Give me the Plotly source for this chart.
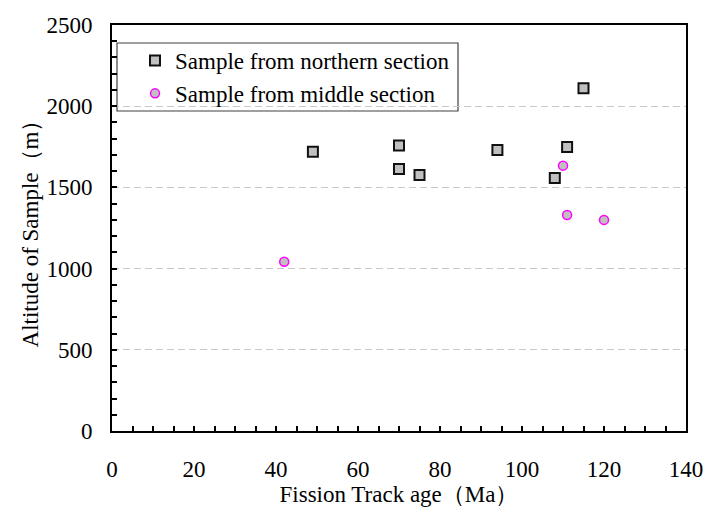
import plotly.graph_objects as go

# Fission track ages (Ma) and sample altitudes (m)
north_age = [49, 70, 70, 75, 94, 108, 111, 115]
north_alt = [1720, 1758, 1613, 1577, 1730, 1558, 1749, 2110]

middle_age = [42, 110, 111, 120]
middle_alt = [1042, 1634, 1330, 1300]

x_ticks = [0, 20, 40, 60, 80, 100, 120, 140]
y_ticks = [0, 500, 1000, 1500, 2000, 2500]

FONT = "Liberation Serif, Times New Roman, serif"

fig = go.Figure()
fig.add_trace(go.Scatter(
    x=north_age, y=north_alt, mode="markers",
    name="Sample from northern section",
    marker=dict(symbol="square", size=10, color="#c0c0c0",
                line=dict(color="#111111", width=2)),
))
fig.add_trace(go.Scatter(
    x=middle_age, y=middle_alt, mode="markers",
    name="Sample from middle section",
    marker=dict(symbol="circle", size=9, color="#c0c0c0",
                line=dict(color="#ff00ff", width=1.5)),
))

axis_common = dict(
    showline=True, linecolor="black", linewidth=2, mirror=True,
    ticks="inside", ticklen=5, tickwidth=1.5, tickcolor="black",
    zeroline=False, automargin=False,
    tickfont=dict(family=FONT, size=23, color="black"),
)

fig.update_xaxes(
    **axis_common,
    range=[0, 140], tickvals=x_ticks, showgrid=False,
    minor=dict(dtick=5, ticks="inside", ticklen=5, tickcolor="black", showgrid=False),
    ticklabelstandoff=16,
    title=dict(text="Fission Track age（Ma）", font=dict(family=FONT, size=23, color="black"),
               standoff=2),
)
fig.update_yaxes(
    **axis_common,
    range=[0, 2500], tickvals=y_ticks,
    showgrid=True, gridcolor="#c8c8c8", gridwidth=1, griddash="7px,4px",
    minor=dict(dtick=100, ticks="inside", ticklen=5, tickcolor="black", showgrid=False),
    ticklabelstandoff=13,
    title=dict(text="Altitude of Sample（m）", font=dict(family=FONT, size=23, color="black"),
               standoff=1),
)

# Legend frame
fig.add_shape(type="rect", xref="paper", yref="paper",
              x0=(117 - 112) / 574, x1=(458 - 112) / 574,
              y0=(431 - 111) / 406, y1=(431 - 43) / 406,
              line=dict(color="#404040", width=1.2), fillcolor="white", layer="below")

fig.update_layout(
    width=711, height=509,
    margin=dict(l=112, r=25, t=25, b=78),
    paper_bgcolor="white", plot_bgcolor="rgba(0,0,0,0)",
    showlegend=True,
    legend=dict(x=(135 - 112) / 574, y=(431 - 39) / 406, xanchor="left", yanchor="top",
                bgcolor="rgba(0,0,0,0)", borderwidth=0,
                font=dict(family=FONT, size=23, color="black"),
                itemwidth=30, tracegroupgap=0),
    font=dict(family=FONT),
)

fig.write_html("out.html")
